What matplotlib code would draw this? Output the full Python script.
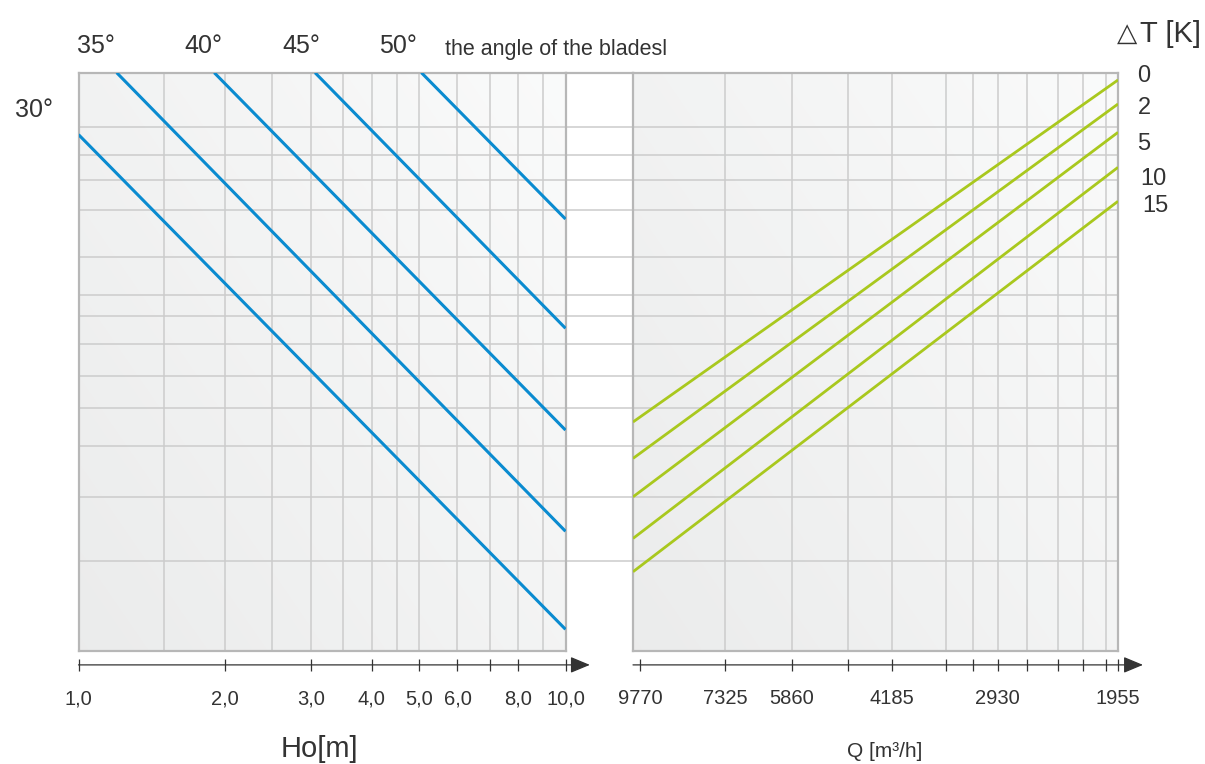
import numpy as np
import matplotlib
matplotlib.use('Agg')
import matplotlib.pyplot as plt
from matplotlib.ticker import NullLocator, NullFormatter
from matplotlib.transforms import ScaledTranslation

# ---------------- data ----------------
# blade angle lines (left panel): Ho [m] vs relative level
angle_labels = ['30°', '35°', '40°', '45°', '50°']
ho_start = [1.0, 1.198, 1.90, 3.06, 5.06]
ho_end = [10.0, 10.0, 10.0, 10.0, 10.0]
y_angle_start = [89.3, 100.0, 100.0, 100.0, 100.0]
y_angle_end = [3.75, 20.7, 38.2, 55.8, 74.7]

# temperature difference lines (right panel): Q [m3/h] vs relative level
dt_labels = ['0', '2', '5', '10', '15']
q_start = [10000, 10000, 10000, 10000, 10000]
q_end = [1955, 1955, 1955, 1955, 1955]
y_dt_start = [39.6, 33.3, 26.65, 19.46, 13.70]
y_dt_end = [98.74, 94.59, 89.69, 83.64, 77.77]

ho_ticks = [1, 2, 3, 4, 5, 6, 7, 8, 10]
ho_tick_labels = ['1,0', '2,0', '3,0', '4,0', '5,0', '6,0', '', '8,0', '10,0']
ho_grid = [1.5, 2, 2.5, 3, 3.5, 4, 4.5, 5, 6, 7, 8, 9]

q_ticks = [9770, 7325, 5860, 4850, 4185, 3490, 3185, 2930, 2655, 2390, 2200, 2035, 1955]
q_tick_labels = ['9770', '7325', '5860', '', '4185', '', '', '2930', '', '', '', '', '1955']
q_grid = [7325, 5860, 4850, 4185, 3490, 3185, 2930, 2655, 2390, 2200, 2035]

y_grid = [15.54, 26.60, 35.41, 41.97, 47.50, 53.02, 57.86, 61.49, 68.05,
          76.34, 81.52, 85.84, 90.67]

# ---------------- style ----------------
W, H = 1205, 764
plt.rcParams['font.family'] = ['Liberation Sans', 'DejaVu Sans']
TXT = '#333333'
FRAME = '#b7b7b7'
GRID = '#cccccc'
BLUE = '#0a8bd0'
GREEN = '#a9c81e'

fig = plt.figure(figsize=(W / 100, H / 100), dpi=100)
fig.patch.set_facecolor('white')


def fbox(x0, x1, y0=72.7, y1=651.0):
    return [x0 / W, 1 - y1 / H, (x1 - x0) / W, (y1 - y0) / H]


def ptext(x, y, s, size, ha='center', va='baseline', **kw):
    kw.setdefault('color', TXT)
    return fig.text(x / W, 1 - y / H, s, fontsize=size, ha=ha, va=va, **kw)


left_box = fbox(78.5, 565.5)
right_box = fbox(633.0, 1118.0)
gap_box = fbox(565.5, 633.0)

# background gradient
u, v = np.meshgrid(np.linspace(0, 1, 128), np.linspace(0, 1, 128))
t = np.clip(0.55 * u + 0.45 * v, 0, 1)
g = 0.922 + 0.058 * t
grad = np.dstack([g, g + 0.003, g + 0.003]).clip(0, 1)
for box in (left_box, right_box):
    bg = fig.add_axes(box, zorder=0)
    bg.imshow(grad, extent=[0, 1, 0, 1], aspect='auto', origin='lower',
              interpolation='bilinear')
    bg.set_axis_off()

# gap between panels: continue horizontal grid lines
gap = fig.add_axes(gap_box, zorder=1)
gap.set_xlim(0, 1)
gap.set_ylim(0, 100)
gap.set_axis_off()
for yv in y_grid:
    gap.axhline(yv, color=GRID, lw=1.1, clip_on=False)
gap.axhline(100, color=FRAME, lw=1.6, clip_on=False)


def style_panel(ax, arrow_tip):
    for side in ('left', 'top', 'right'):
        ax.spines[side].set_color(FRAME)
        ax.spines[side].set_linewidth(1.6)
    ax.spines['bottom'].set_position(('outward', 10))
    ax.spines['bottom'].set_color('none')
    ax.axhline(0, color=FRAME, lw=1.6, clip_on=False, zorder=3)
    ax.set_ylim(0, 100)
    ax.set_yticks([])
    ax.xaxis.set_minor_locator(NullLocator())
    ax.xaxis.set_minor_formatter(NullFormatter())
    ax.tick_params(axis='x', which='major', direction='inout', length=8,
                   width=0.9, color=TXT, labelsize=14.5, labelcolor=TXT, pad=13.5)
    tr = ax.transAxes + ScaledTranslation(0, -10 / 72, fig.dpi_scale_trans)
    ax.annotate('', xy=(arrow_tip, 0), xytext=(0, 0), xycoords=tr, textcoords=tr,
                arrowprops=dict(arrowstyle='-|>,head_length=0.6,head_width=0.25',
                                color=TXT, lw=0.9, shrinkA=0, shrinkB=0,
                                mutation_scale=20),
                annotation_clip=False)


# ---------------- left panel ----------------
ax1 = fig.add_axes(left_box, facecolor='none', zorder=2)
ax1.set_xscale('log')
ax1.set_xlim(1, 10)
for xv in ho_grid:
    ax1.axvline(xv, color=GRID, lw=1.1, zorder=1)
for yv in y_grid:
    ax1.axhline(yv, color=GRID, lw=1.1, zorder=1)
for i in range(len(angle_labels)):
    ax1.plot([ho_start[i], ho_end[i]], [y_angle_start[i], y_angle_end[i]],
             color=BLUE, lw=2.2, solid_capstyle='butt', zorder=4)
ax1.set_xticks(ho_ticks)
ax1.set_xticklabels(ho_tick_labels)
style_panel(ax1, 1.05)

# ---------------- right panel ----------------
ax2 = fig.add_axes(right_box, facecolor='none', zorder=2)
ax2.set_xscale('log')
ax2.set_xlim(10000, 1955)
for xv in q_grid:
    ax2.axvline(xv, color=GRID, lw=1.1, zorder=1)
for yv in y_grid:
    ax2.axhline(yv, color=GRID, lw=1.1, zorder=1)
for i in range(len(dt_labels)):
    ax2.plot([q_start[i], q_end[i]], [y_dt_start[i], y_dt_end[i]],
             color=GREEN, lw=2.0, solid_capstyle='butt', zorder=4)
ax2.set_xticks(q_ticks)
ax2.set_xticklabels(q_tick_labels)
style_panel(ax2, 1.0515)

# ---------------- texts ----------------
top_x = [96, 203, 301, 398]
for lab, xp in zip(angle_labels[1:], top_x):
    ptext(xp, 53.3, lab, 18)
ptext(34, 116.7, angle_labels[0], 18)
ptext(445, 55, 'the angle of the bladesl', 15.5, ha='left')

ptext(1117, 41, '△', 19, ha='left', family=['DejaVu Sans'])
ptext(1140, 42, 'T [K]', 21, ha='left')
dt_x = [1144, 1144, 1144, 1153, 1155]
dt_y = [81.7, 114, 150, 185, 212]
for lab, xp, yp in zip(dt_labels, dt_x, dt_y):
    ptext(xp, yp, lab, 17)

ptext(319, 757, 'Ho[m]', 21)
ptext(885, 757, 'Q [m³/h]', 15)

fig.savefig('out.png', dpi=100, facecolor='white')
